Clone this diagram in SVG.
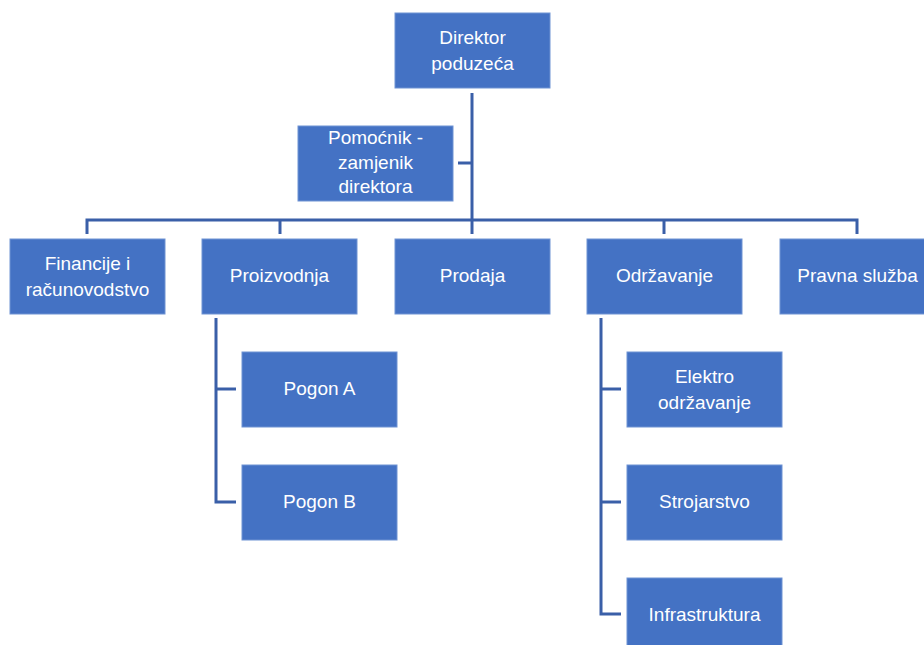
<svg xmlns="http://www.w3.org/2000/svg" width="924" height="645" viewBox="0 0 924 645">
<style>
.box{fill:#4472C4;stroke:#6F93D3;stroke-width:1}
.t{font-family:"Liberation Sans",Arial,sans-serif;font-size:19px;fill:#FFFFFF;text-anchor:middle}
.c{fill:none;stroke:#3A5FA8;stroke-width:3}
</style>
<rect width="924" height="645" fill="#FFFFFF"/>
<g id="connectors">
<path class="c" d="M472 93V234"/>
<path class="c" d="M458 163H472"/>
<path class="c" d="M87 234V220H857V234"/>
<path class="c" d="M280 220V234"/>
<path class="c" d="M664 220V234"/>
<path class="c" d="M216 318V502H236"/>
<path class="c" d="M216 389H236"/>
<path class="c" d="M601 318V614H621"/>
<path class="c" d="M601 389H621"/>
<path class="c" d="M601 502H621"/>
</g>
<g id="director"><rect class="box" x="395" y="13" width="155" height="75"/><text class="t" x="472.5" y="44">Direktor</text><text class="t" x="472.5" y="70">poduzeća</text></g>
<g id="pomocnik"><rect class="box" x="298" y="126" width="155" height="75"/><text class="t" x="375.5" y="144">Pomoćnik -</text><text class="t" x="375.5" y="169">zamjenik</text><text class="t" x="375.5" y="193">direktora</text></g>
<g id="financije"><rect class="box" x="10" y="239" width="155" height="75"/><text class="t" x="87.5" y="270">Financije i</text><text class="t" x="87.5" y="296">računovodstvo</text></g>
<g id="proizvodnja"><rect class="box" x="202" y="239" width="155" height="75"/><text class="t" x="279.5" y="282">Proizvodnja</text></g>
<g id="prodaja"><rect class="box" x="395" y="239" width="155" height="75"/><text class="t" x="472.5" y="282">Prodaja</text></g>
<g id="odrzavanje"><rect class="box" x="587" y="239" width="155" height="75"/><text class="t" x="664.5" y="282">Održavanje</text></g>
<g id="pravna"><rect class="box" x="780" y="239" width="155" height="75"/><text class="t" x="857.5" y="282">Pravna služba</text></g>
<g id="pogonA"><rect class="box" x="242" y="352" width="155" height="75"/><text class="t" x="319.5" y="395">Pogon A</text></g>
<g id="pogonB"><rect class="box" x="242" y="465" width="155" height="75"/><text class="t" x="319.5" y="508">Pogon B</text></g>
<g id="elektro"><rect class="box" x="627" y="352" width="155" height="75"/><text class="t" x="704.5" y="383">Elektro</text><text class="t" x="704.5" y="409">održavanje</text></g>
<g id="strojarstvo"><rect class="box" x="627" y="465" width="155" height="75"/><text class="t" x="704.5" y="508">Strojarstvo</text></g>
<g id="infrastruktura"><rect class="box" x="627" y="578" width="155" height="75"/><text class="t" x="704.5" y="621">Infrastruktura</text></g>
</svg>
